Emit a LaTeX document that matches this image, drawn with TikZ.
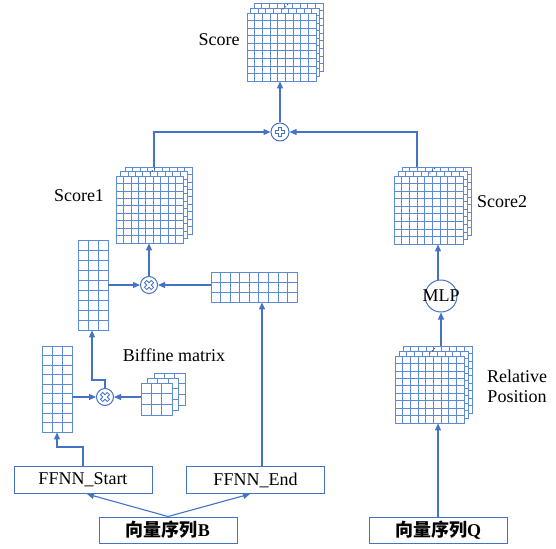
\documentclass[tikz,border=0pt]{standalone}
\usepackage{fontspec}
\setmainfont{Liberation Serif}
\newfontfamily\cjk{Noto Sans CJK SC}
\usetikzlibrary{arrows.meta}
\definecolor{lc}{RGB}{68,114,196}
\definecolor{gc}{RGB}{92,138,214}
\tikzset{
  conn/.style={draw=lc, line width=1.1pt, -{Triangle[length=7pt,width=6pt]}},
  gl/.style={draw=gc, line width=0.75pt},
  boxnode/.style={draw=lc, line width=1pt, minimum width=138pt, minimum height=27pt, inner sep=0pt},
  opnode/.style={circle, draw=lc, line width=1pt, minimum size=17pt, inner sep=0pt, fill=white},
  lbl/.style={inner sep=0pt},
  dotmark/.style={fill=black!75}
}
\newcommand\glayer[6]{%
  \filldraw[gl, fill=white] ({#1},{#2}) rectangle ({#1+#3*#5},{#2+#4*#6});
  \foreach \ii in {1,...,#3} \draw[gl] ({#1+\ii*#5},{#2}) -- ({#1+\ii*#5},{#2+#4*#6});
  \foreach \jj in {1,...,#4} \draw[gl] ({#1},{#2+\jj*#6}) -- ({#1+#3*#5},{#2+\jj*#6});
}
\newcommand\gstack[9]{%
  \glayer{#2+2*#8}{#3+2*#9}{#4}{#5}{#6}{#7}
  \glayer{#2+#8}{#3+#9}{#4}{#5}{#6}{#7}
  \glayer{#2}{#3}{#4}{#5}{#6}{#7}
  \node[inner sep=0pt, minimum width={#4*#6*1pt}, minimum height={#5*#7*1pt}, anchor=north west] (#1) at (#2,#3) {};
}
\newcommand\gvec[7]{%
  \glayer{#2}{#3}{#4}{#5}{#6}{#7}
  \node[inner sep=0pt, minimum width={#4*#6*1pt}, minimum height={#5*#7*1pt}, anchor=north west] (#1) at (#2,#3) {};
}
\newcommand\stackdots[2]{%
  \fill[dotmark] (#1,#2) circle (0.7);
  \fill[dotmark] ({#1+2.3},{#2-2.2}) circle (0.7);
  \fill[dotmark] ({#1+4.6},{#2-4.4}) circle (0.7);
}
\newcommand\opsym[2]{%
  \begin{scope}[shift={(#1.center)}, rotate=#2]
    \draw[lc, line width=4.2pt] (-5.2,0) -- (5.2,0) (0,-5.2) -- (0,5.2);
    \draw[white, line width=1.8pt] (-4.4,0) -- (4.4,0) (0,-4.4) -- (0,4.4);
  \end{scope}
}
\begin{document}
\begin{tikzpicture}[x=1pt, y=-1pt, font=\fontsize{18}{20}\selectfont]
\useasboundingbox (0,0) rectangle (556,548);

% grids
\gstack{score}{247}{13}{9}{9}{7.67}{7.56}{3.5}{-5}
\stackdots{283}{9}
\gstack{score1}{116}{176}{9}{9}{7.44}{7.44}{4.5}{-4.5}
\stackdots{150}{173}
\gstack{score2}{394}{176}{9}{9}{7.67}{7.56}{4}{-4.5}
\stackdots{430}{173}
\gstack{relpos}{395}{356}{9}{9}{7.67}{7.44}{4}{-5}
\stackdots{430}{353}
\gstack{biff}{141}{383}{3}{3}{10.33}{10.67}{6.5}{-5}
\gvec{vone}{78}{240}{3}{9}{10}{10}
\gvec{vtwo}{211}{272}{9}{3}{9.56}{10}
\gvec{vthree}{42}{346}{3}{9}{10}{9.56}

% operator nodes
\node[opnode, minimum size=18pt] (plus) at (280,132) {};
\opsym{plus}{0}
\node[opnode] (crossA) at (149,285) {};
\opsym{crossA}{45}
\node[opnode] (crossB) at (105,397) {};
\opsym{crossB}{45}
\node[circle, draw=lc, line width=1pt, minimum size=32pt, inner sep=0pt] (mlp) at (441,296) {};
\node[lbl] (mlptext) at (mlp.center) {MLP};

% boxes
\node[boxnode] (ffs) at (83,480) {FFNN\_Start};
\node[boxnode] (ffe) at (255.5,480) {FFNN\_End};
\node[boxnode, minimum height=26pt] (vb) at (168,530) {\bfseries{\cjk 向量序列}B};
\node[boxnode, minimum height=26pt] (vq) at (438,530) {\bfseries{\cjk 向量序列}Q};

% labels
\node[lbl] (tscore) at (219,40) {Score};
\node[lbl] (tscore1) at (79,196) {Score1};
\node[lbl] (tscore2) at (502,202) {Score2};
\node[lbl] (tbiff) at (174,355) {Biffine matrix};
\node[lbl, align=center] (trel) at (517,386) {Relative\\Position};

% coordinates
\coordinate (s1top) at (154,167);
\coordinate (s2top) at (417,167);
\coordinate (rptop) at (441,346);

% connectors
\draw[conn] (plus.north) -- (plus.north |- score.south);
\draw[conn] (s1top) |- (plus.west);
\draw[conn] (s2top) |- (plus.east);
\draw[conn] (crossA.north) -- (crossA.north |- score1.south);
\draw[conn] (vone.east |- crossA) -- (crossA.west);
\draw[conn] (vtwo.west |- crossA) -- (crossA.east);
\draw[conn] (ffe.north -| 262,0) -- (vtwo.south -| 262,0);
\draw[conn] (vthree.east |- crossB) -- (crossB.west);
\draw[conn] (biff.west |- crossB) -- (crossB.east);
\draw[conn] (crossB.north) -- (105,380) -- (92,380) -- (92,0 |- vone.south);
\draw[conn] (ffs.north -| 83,0) -- (83,447) -- (57,447) -- (57,0 |- vthree.south);
\draw[conn] (vb.north) -- (87,0 |- ffs.south);
\draw[conn] (vb.north) -- (250,0 |- ffe.south);
\draw[conn] (vq.north) -- (vq.north |- relpos.south);
\draw[conn] (rptop) -- (mlp.south);
\draw[conn] (mlp.north -| 438,0) -- (438,0 |- score2.south);
\end{tikzpicture}
\end{document}
